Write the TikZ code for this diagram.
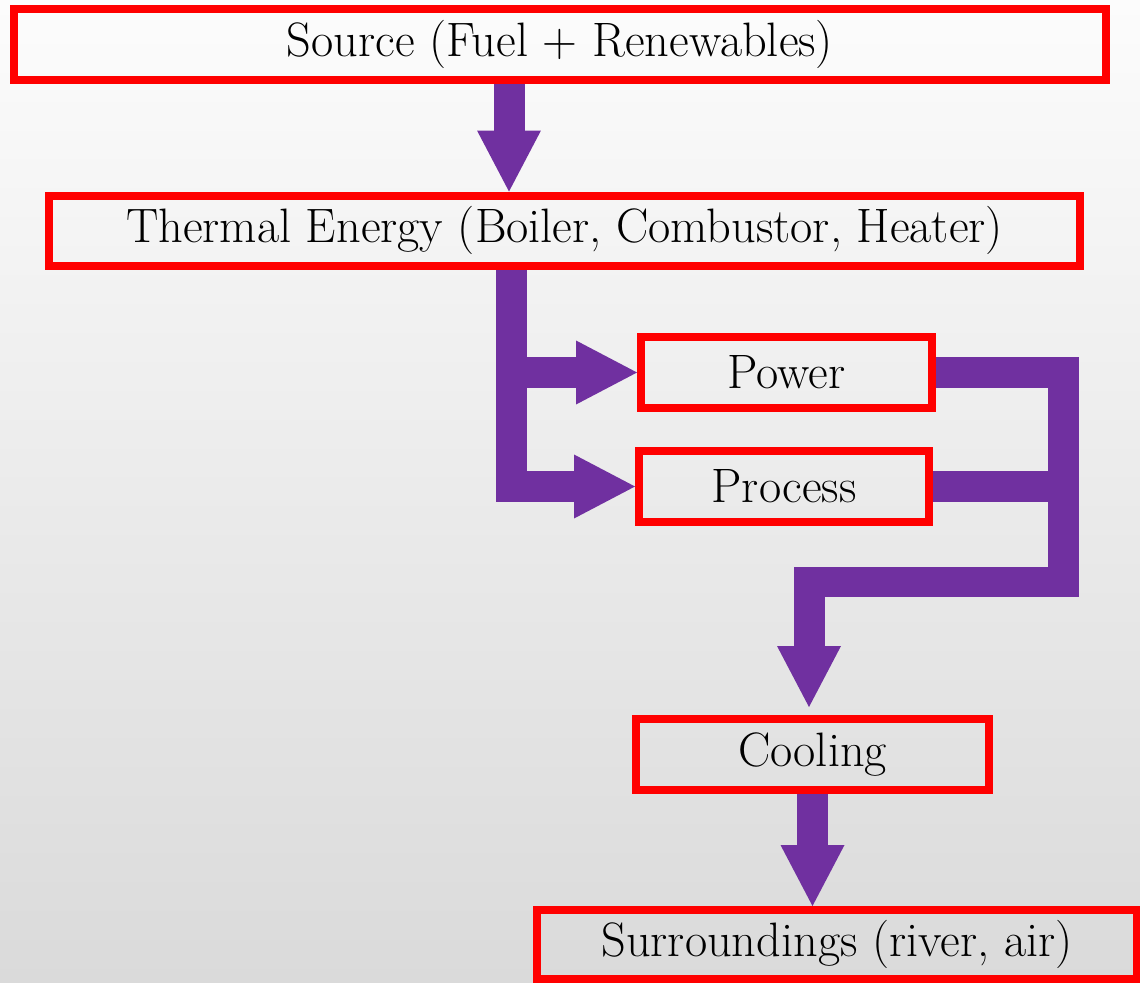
\documentclass[tikz,border=0pt]{standalone}
\usetikzlibrary{arrows.meta}
\definecolor{boxred}{RGB}{255,0,0}
\definecolor{flowpurple}{RGB}{112,48,160}
\definecolor{bgtop}{RGB}{252,252,252}
\definecolor{bgmid}{RGB}{245,245,245}
\definecolor{bgbot}{RGB}{218,218,218}
\begin{document}
\begin{tikzpicture}[x=0.02cm, y=-0.02cm,
  box/.style={draw=boxred, line width=0.16cm, inner sep=0pt, text=black,
    font=\fontsize{27.5}{33}\selectfont},
  flowbar/.style={draw=flowpurple, line width=0.62cm, line join=miter},
  flow/.style={flowbar, -{Triangle[width=1.28cm,length=1.22cm,line width=0pt]}}]
\useasboundingbox (0,0) rectangle (1140,983);
\shade[top color=bgtop, middle color=bgmid, bottom color=bgbot] (0,0) rectangle (1140,983);

\node[box, minimum width=21.84cm, minimum height=1.43cm] (source) at (560,44.75) {Source (Fuel + Renewables)};
\node[box, minimum width=20.62cm, minimum height=1.41cm] (thermal) at (564.5,230.75) {Thermal Energy (Boiler, Combustor, Heater)};
\node[box, minimum width=5.82cm, minimum height=1.42cm] (power) at (786.5,372.5) {Power};
\node[box, minimum width=5.80cm, minimum height=1.42cm] (process) at (784,486.5) {Process};
\node[box, minimum width=7.06cm, minimum height=1.42cm] (cooling) at (812.5,754.5) {Cooling};
\node[box, minimum width=12.0cm, minimum height=1.39cm] (surr) at (837,944.75) {Surroundings (river, air)};

\coordinate (a1) at (509,0);
\coordinate (vl) at (511,0);
\coordinate (vr) at (1063,582);
\coordinate (dl) at (809,582);

% source -> thermal
\draw[flow] (a1 |- source.south) -- (a1 |- thermal.north);
% thermal -> power / process
\draw[flow] (vl |- thermal.south) |- (process.west);
\draw[flow] (vl |- power.west) -- (power.west);
% power / process -> cooling
\draw[flowbar] (process.east) -- (process.east -| vr);
\draw[flow, shorten >=0.16cm] (power.east) -| (vr) -- (dl) -- (dl |- cooling.north);
% cooling -> surroundings
\draw[flow] (cooling.south) -- (cooling.south |- surr.north);
\end{tikzpicture}
\end{document}
